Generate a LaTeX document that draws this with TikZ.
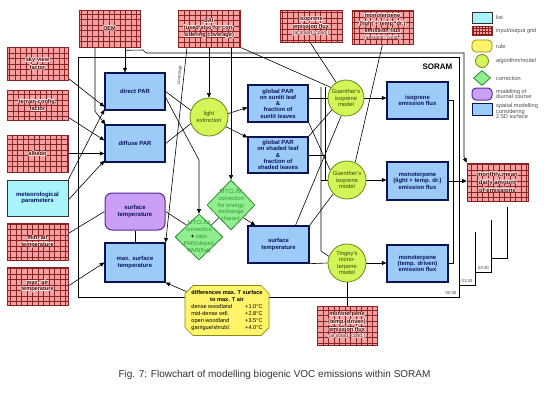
\documentclass[tikz,border=0pt]{standalone}
\usepackage{fontspec}
\setmainfont{Liberation Sans}
\usetikzlibrary{arrows.meta,shapes.geometric,shapes.misc}
\newcommand{\myfs}[2]{\fontsize{#1}{#2}\selectfont}
\pgfdeclarelayer{bg}
\pgfsetlayers{bg,main}
\definecolor{gridfill}{HTML}{F4A0A0}
\definecolor{gridline}{HTML}{8A2424}
\definecolor{gridtext}{HTML}{4A0000}
\definecolor{haloc}{HTML}{FDEAEA}
\definecolor{listfill}{HTML}{A8F4FA}
\definecolor{blufill}{HTML}{9CCBF8}
\definecolor{bluline}{HTML}{0A1450}
\definecolor{blutext}{HTML}{0A1460}
\definecolor{algfill}{HTML}{D4F55A}
\definecolor{algline}{HTML}{6A8A10}
\definecolor{algtext}{HTML}{3A4A00}
\definecolor{corfill}{HTML}{90EE90}
\definecolor{corline}{HTML}{2E8B2E}
\definecolor{cortext}{HTML}{2E9A2E}
\definecolor{purfill}{HTML}{C9A0F5}
\definecolor{purline}{HTML}{5A2A9A}
\definecolor{rulefill}{HTML}{FFF46A}
\definecolor{ruleline}{HTML}{8A8A10}
\newcommand{\hl}[1]{{\def\hh##1##2{\makebox[0pt][l]{\hspace*{##1}\raisebox{##2}{\color{haloc}#1}}}%
\hh{0.7pt}{0pt}\hh{-0.7pt}{0pt}\hh{0pt}{0.7pt}\hh{0pt}{-0.7pt}%
\hh{0.5pt}{0.5pt}\hh{-0.5pt}{0.5pt}\hh{0.5pt}{-0.5pt}\hh{-0.5pt}{-0.5pt}%
\hh{0.35pt}{0pt}\hh{-0.35pt}{0pt}\hh{0pt}{0.35pt}\hh{0pt}{-0.35pt}#1}}
\tikzset{
  gridbox/.style={draw=gridline, line width=0.6pt, fill=gridfill, inner sep=0pt,
    align=center, text=gridtext, font=\bfseries\myfs{5.6}{6.4},
    path picture={\draw[gridline, line width=0.4pt]
      (path picture bounding box.south west) grid[xstep=#1 pt, ystep=#1 pt]
      (path picture bounding box.north east);}},
  gridbox/.default=5.5,
  listbox/.style={draw=black!80, line width=0.6pt, fill=listfill, inner sep=0pt,
    align=center, text=blutext, font=\bfseries\myfs{6}{6.8}},
  blubox/.style={draw=bluline, line width=1.3pt, fill=blufill, inner sep=0pt,
    align=center, text=blutext, font=\bfseries\myfs{5.9}{6.3}},
  purbox/.style={draw=purline, line width=1pt, fill=purfill, rounded corners=7pt,
    inner sep=0pt, align=center, text=blutext, font=\bfseries\myfs{6}{6.6}},
  alg/.style={circle, draw=algline, line width=0.8pt, fill=algfill, inner sep=0pt,
    align=center, text=algtext, font=\myfs{5.8}{6.4}},
  corr/.style={diamond, draw=corline, line width=0.8pt, fill=corfill, inner sep=0pt},
  corrtext/.style={align=center, text=cortext, font=\myfs{5.8}{6.9}, inner sep=0pt},
  rulebox/.style={chamfered rectangle, chamfered rectangle xsep=4pt,
    chamfered rectangle ysep=4pt, draw=ruleline, line width=0.7pt, fill=rulefill,
    inner sep=0pt, font=\myfs{5.6}{7}},
  conn/.style={draw=black, line width=0.6pt},
  arr/.style={conn, -{Triangle[length=4.5pt,width=4pt]}},
  frame/.style={draw=black, line width=0.8pt},
  lgtext/.style={anchor=west, text=black!70, font=\myfs{5.6}{5.9}, align=left, inner sep=0pt},
  tlabel/.style={text=black!75, font=\myfs{4.3}{5}, inner sep=0pt}
}
\begin{document}
\begin{tikzpicture}[x=1pt,y=-1pt]
\useasboundingbox (0,0) rectangle (550,400);

% ---------- input / output grids ----------
\node[gridbox, minimum width=61, minimum height=37] (dem) at (109.5,28.5) {\hl{DEM}};
\node[gridbox, minimum width=62, minimum height=37] (lai) at (209,28.5) {\hl{LAI}\\\hl{(used also for con-}\\\hl{sidering coverage)}};
\node[gridbox, minimum width=62, minimum height=32] (isostd) at (311,26) {\hl{isoprene}\\\hl{emission flux}\\{\mdseries\myfs{5}{6}\hl{(at stand. cond.)}}};
\node[gridbox, minimum width=61, minimum height=34] (monostd) at (382.5,27) {\hl{monoterpene}\\\hl{(light + temp. dr.)}\\\hl{emission flux}\\{\mdseries\myfs{5}{6}\hl{(at stand. cond.)}}};
\node[gridbox, minimum width=61, minimum height=33] (sky) at (37.5,63.5) {\hl{sky-view}\\\hl{factor}};
\node[gridbox, minimum width=61, minimum height=30] (terrain) at (37.5,105) {\hl{terrain-config.}\\\hl{factor}};
\node[gridbox, minimum width=61, minimum height=37] (albedo) at (37.5,153.5) {\hl{albedo}};
\node[listbox, minimum width=61, minimum height=36] (meteo) at (37.5,198) {meteorological\\parameters};
\node[gridbox, minimum width=61, minimum height=37] (mintemp) at (37.5,241.5) {\hl{min. air}\\\hl{temperature}};
\node[gridbox, minimum width=61, minimum height=38] (maxtemp) at (37.5,286) {\hl{max. air}\\\hl{temperature}};
\node[gridbox, font=\bfseries\myfs{6}{6.8}, minimum width=61, minimum height=38] (monthly) at (497.5,182) {\hl{monthly mean}\\\hl{daily amount}\\\hl{of emissions}};
\node[gridbox, minimum width=60, minimum height=39] (tdstd) at (347,325.5) {\hl{monoterpene}\\\hl{(temp. driven)}\\\hl{emission flux}\\{\mdseries\myfs{5}{6}\hl{(at stand. cond.)}}};

% ---------- spatial modelling boxes ----------
\node[blubox, minimum width=60, minimum height=37] (direct) at (135,91.5) {direct PAR};
\node[blubox, minimum width=60, minimum height=37] (diffuse) at (135,143.5) {diffuse PAR};
\node[purbox, minimum width=60, minimum height=37] (surfP) at (135,211.5) {surface\\temperature};
\node[blubox, minimum width=60, minimum height=39] (maxsurf) at (135,262.5) {max. surface\\temperature};
\node[blubox, minimum width=60, minimum height=37] (sunlit) at (278,103.5) {global PAR\\on sunlit leaf\\\&\\fraction of\\sunlit leaves};
\node[blubox, minimum width=60, minimum height=36] (shaded) at (278,155) {global PAR\\on shaded leaf\\\&\\fraction of\\shaded leaves};
\node[blubox, minimum width=61, minimum height=37] (surftemp) at (278.5,244.5) {surface\\temperature};
\node[blubox, minimum width=61, minimum height=37] (isoflux) at (417.5,100.5) {isoprene\\emission flux};
\node[blubox, minimum width=61, minimum height=38] (monoflux) at (417.5,181) {monoterpene\\(light + temp. dr.)\\emission flux};
\node[blubox, minimum width=61, minimum height=37] (tdflux) at (417.5,263.5) {monoterpene\\(temp. driven)\\emission flux};

% ---------- algorithms / models ----------
\node[alg, minimum size=38] (le) at (209,117) {light\\extinction};
\node[alg, minimum size=36] (g1) at (346,98) {Guenther's\\isoprene\\model};
\node[alg, minimum size=38] (g2) at (347,180) {Guenther's\\isoprene\\model};
\node[alg, minimum size=38] (ting) at (347,263) {Tingey's\\mono-\\terpene\\model};

% ---------- corrections ----------
\node[corr, minimum width=48, minimum height=50] (d1) at (231,205) {};
\node[corrtext] (d1t) at (d1) {MTCLIM\\correction\\for energy\\exchange\\charact.};
\node[corr, minimum width=48, minimum height=46] (d2) at (199,237) {};
\node[corrtext] (d2t) at (d2) {MTCLIM\\correction\\\textbf{\textcolor{black}{+}} ratio\\PAR(slope)/\\PAR(flat)};

% ---------- rule ----------
\node[rulebox, minimum width=84, minimum height=47] (rule) at (227,310.5) {%
\renewcommand{\arraystretch}{1}%
\begin{tabular}{@{}l@{\hspace{8pt}}r@{}}
\multicolumn{2}{@{}c@{}}{\bfseries differences max. T surface}\\
\multicolumn{2}{@{}c@{}}{\bfseries to max. T air}\\
dense woodland & +1.0°C\\
mid-dense wdl. & +2.8°C\\
open woodland & +3.5°C\\
garrigue/shrubl. & +4.0°C
\end{tabular}};

% ---------- SORAM label, time labels ----------
\node[font=\bfseries\myfs{8}{9}, inner sep=0pt] (soram) at (437.5,67) {SORAM};
\node[tlabel] (t0) at (451,293.5) {00:30};
\node[tlabel] (t1) at (467,281.5) {01:30};
\node[tlabel] (t2) at (483.5,268.5) {02:30};

% ---------- legend ----------
\node[listbox, minimum width=20, minimum height=11] (lg1) at (482,17.5) {};
\node[lgtext] (lg1t) at (496,17.5) {list};
\node[gridbox=3, minimum width=20, minimum height=9] (lg2) at (482,31) {};
\node[lgtext] (lg2t) at (496,31) {input/output grid};
\node[draw=ruleline, line width=0.7pt, fill=rulefill, rounded corners=4pt, minimum width=20, minimum height=12, inner sep=0pt] (lg3) at (482,46) {};
\node[lgtext] (lg3t) at (496,46) {rule};
\node[alg, minimum size=13] (lg4) at (482,61) {};
\node[lgtext] (lg4t) at (496,61) {algorithm/model};
\node[corr, minimum width=17, minimum height=15] (lg5) at (482,78) {};
\node[lgtext] (lg5t) at (496,78) {correction};
\node[purbox, rounded corners=4pt, minimum width=20, minimum height=12] (lg6) at (482,94) {};
\node[lgtext] (lg6t) at (496,94) {modelling of\\diurnal course};
\node[blubox, line width=0.9pt, minimum width=20, minimum height=12] (lg7) at (482,109) {};
\node[lgtext] (lg7t) at (496,111) {spatial modelling\\considering\\2.5D surface};

% ---------- caption ----------
\node[font=\myfs{10}{12}, text=black!80, inner sep=0pt] (cap) at (274.5,375) {Fig. 7: Flowchart of modelling biogenic VOC emissions within SORAM};

% ---------- helper coordinates ----------
\coordinate (kink) at (199,160);
\coordinate (busTop) at (321,87);
\coordinate (busBot) at (321,251);
\coordinate (busTwoTop) at (325,87);
\coordinate (busTwoBot) at (325,180);
\coordinate (demA) at (143,50);
\coordinate (demB) at (146,53);
\coordinate (demC) at (464,53);
\coordinate (demD) at (464,157);

\begin{pgfonlayer}{bg}
\fill[white] (0,0) rectangle (550,400);
% frames
\draw[frame] (78,57) rectangle (459,297);
\draw[frame] (459,285) -- (475,285) -- (475,232);
\draw[frame] (475,272) -- (491,272) -- (491,220);
\draw[frame] (491,258) -- (507,258) -- (507,207);

% inputs on the left
\draw[arr] ([xshift=15.5pt]dem.south) -- ([xshift=15.5pt]dem.south |- direct.north);
\draw[conn] ([xshift=15.5pt,yshift=-3pt]dem.south) -- (demA) -- (demB) -- (demC) -- (demD);
\draw[arr] (demD) -- (monthly.north west);
\draw[arr] ([xshift=-14.5pt]dem.south) -- ++(0,64) -- ([xshift=1pt]diffuse.north west);
\draw[arr] ([yshift=2pt]sky.south east) -- ([yshift=4pt]direct.south west);
\draw[arr] ([yshift=3pt]terrain.south east) -- ([yshift=-16pt]diffuse.north west);
\draw[arr] (albedo.east) -- (albedo.east -| diffuse.west);
\draw[arr] (meteo.north east) -- ([yshift=1pt]direct.south west);
\draw[arr] ([yshift=-2pt]meteo.east) -- ([yshift=2pt]diffuse.south west);
\draw[conn] ([yshift=8pt]mintemp.east) -- (surfP.west);
\draw[arr] (maxtemp.east) -- (maxsurf.west);
\draw[conn] (surfP.south) -- (maxsurf.north);

% PAR and light extinction
\draw[conn] (direct.east) -- (le.160);
\draw[conn] (diffuse.east) -- (le.200);
\draw[arr] (lai.south) -- (le.north);
\draw[arr] ([xshift=-22pt]lai.south) -- (maxsurf.north east);
\draw[arr] ([xshift=22pt]lai.south) -- ([xshift=22pt]lai.south |- d1.north);
\draw[conn] (lai.south east) -- (g1.145);
\draw[conn] ([xshift=-1pt]isostd.south) -- (g1.122);
\draw[conn] (monostd.south) -- (g2.65);
\draw[arr] (le.10) -- ([yshift=-4pt]sunlit.west);
\draw[arr] (le.-30) -- ([yshift=-1pt]shaded.north west);
\draw[arr] ([yshift=-6pt]direct.east) -- (kink) -- (d2.north);

% corrections
\draw[arr] (d1.south east) -- ([xshift=8pt]surftemp.north west);
\draw[conn] (d1.south west) -- (d2.north east);
\draw[conn] (surfP.east) -- (d2.north west);
\draw[arr] (rule.155) -- (maxsurf.south east);

% into the models
\draw[conn] (g1.west -| sunlit.east) -- (g1.west);
\draw[conn] (shaded.north east) -- (g1.220);
\draw[conn] (sunlit.south east) -- (g2.150);
\draw[conn] (busTop) -- (busBot) -- (ting.160);
\draw[conn] (busTwoTop) -- (busTwoBot);
\draw[conn] (shaded.east) -- (shaded.east -| busTwoBot);
\draw[conn] (g2.west -| busTop) -- (g2.west);
\draw[conn] ([xshift=17pt]surftemp.north) -- (g1.255);
\draw[conn] (surftemp.north east) -- (g2.225);
\draw[conn] (surftemp.south east) -- (ting.west);
\draw[conn] (ting.south) -- (tdstd.north);

% model outputs
\draw[arr] (g1.east) -- (g1.east -| isoflux.west);
\draw[arr] (g2.east) -- (g2.east -| monoflux.west);
\draw[arr] (ting.east) -- (ting.east -| tdflux.west);
\draw[conn] (isoflux.east) -- ++(5,0) |- (tdflux.east);
\draw[arr] (monoflux.east) -- (monoflux.east -| monthly.west);
\end{pgfonlayer}

\node[rotate=84, tlabel, font=\myfs{4.5}{5}] (covlab) at (180,75) {coverage};
\end{tikzpicture}
\end{document}
